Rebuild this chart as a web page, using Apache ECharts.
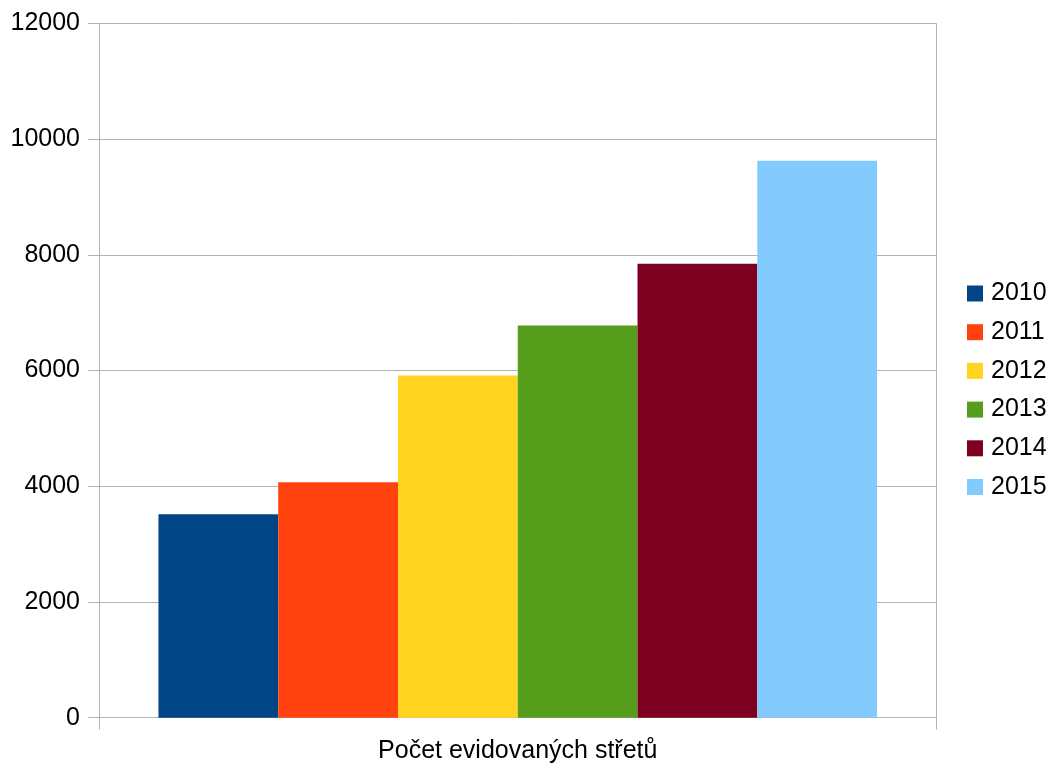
<!DOCTYPE html>
<html>
<head>
<meta charset="utf-8">
<script src="https://cdn.jsdelivr.net/npm/echarts@6/dist/echarts.min.js"></script>
<style>
html,body{margin:0;padding:0;background:#fff;}
#c{width:1058px;height:769px;}
</style>
</head>
<body>
<div id="c"></div>
<script>
var categories = ['Počet evidovaných střetů'];
var years = ['2010', '2011', '2012', '2013', '2014', '2015'];
var values = [3515, 4067, 5914, 6776, 7846, 9624];
var colors = ['#004586', '#ff420e', '#ffd320', '#579d1c', '#7e0021', '#83caff'];
var yTicks = [0, 2000, 4000, 6000, 8000, 10000, 12000];

var font = 'Liberation Sans';
var gridColor = '#b3b3b3';

var series = years.map(function (y, i) {
  return {
    name: y,
    type: 'bar',
    data: [values[i]],
    itemStyle: { color: colors[i] },
    barGap: '0%',
    barCategoryGap: '14.2%'
  };
});

var chart = echarts.init(document.getElementById('c'));
chart.setOption({
  animation: false,
  backgroundColor: '#fff',
  textStyle: { fontFamily: font },
  grid: { left: 99, right: 121.5, top: 23.3, bottom: 51.3, containLabel: false },
  legend: {
    orient: 'vertical',
    left: 967,
    top: 281,
    padding: 0,
    itemWidth: 16,
    itemHeight: 16,
    itemGap: 13.7,
    icon: 'rect',
    textStyle: { fontFamily: font, fontSize: 25, color: '#000', lineHeight: 24, padding: [0, 0, 0, 3] },
    data: years
  },
  xAxis: {
    type: 'category',
    data: categories,
    axisLine: { show: true, lineStyle: { color: gridColor, width: 1 } },
    axisTick: { show: true, length: 12, alignWithLabel: false, lineStyle: { color: gridColor } },
    splitLine: { show: true, lineStyle: { color: gridColor, width: 1 } },
    axisLabel: { fontFamily: font, fontSize: 25, color: '#000', margin: 21 }
  },
  yAxis: {
    type: 'value',
    min: yTicks[0],
    max: yTicks[yTicks.length - 1],
    interval: yTicks[1] - yTicks[0],
    axisLine: { show: true, lineStyle: { color: gridColor, width: 1 } },
    axisTick: { show: true, length: 11, lineStyle: { color: gridColor } },
    splitLine: { show: true, lineStyle: { color: gridColor, width: 1 } },
    axisLabel: {
      fontFamily: font, fontSize: 25, color: '#000', margin: 19,
      formatter: function (v) { return String(v); }
    }
  },
  series: series
});
</script>
</body>
</html>
